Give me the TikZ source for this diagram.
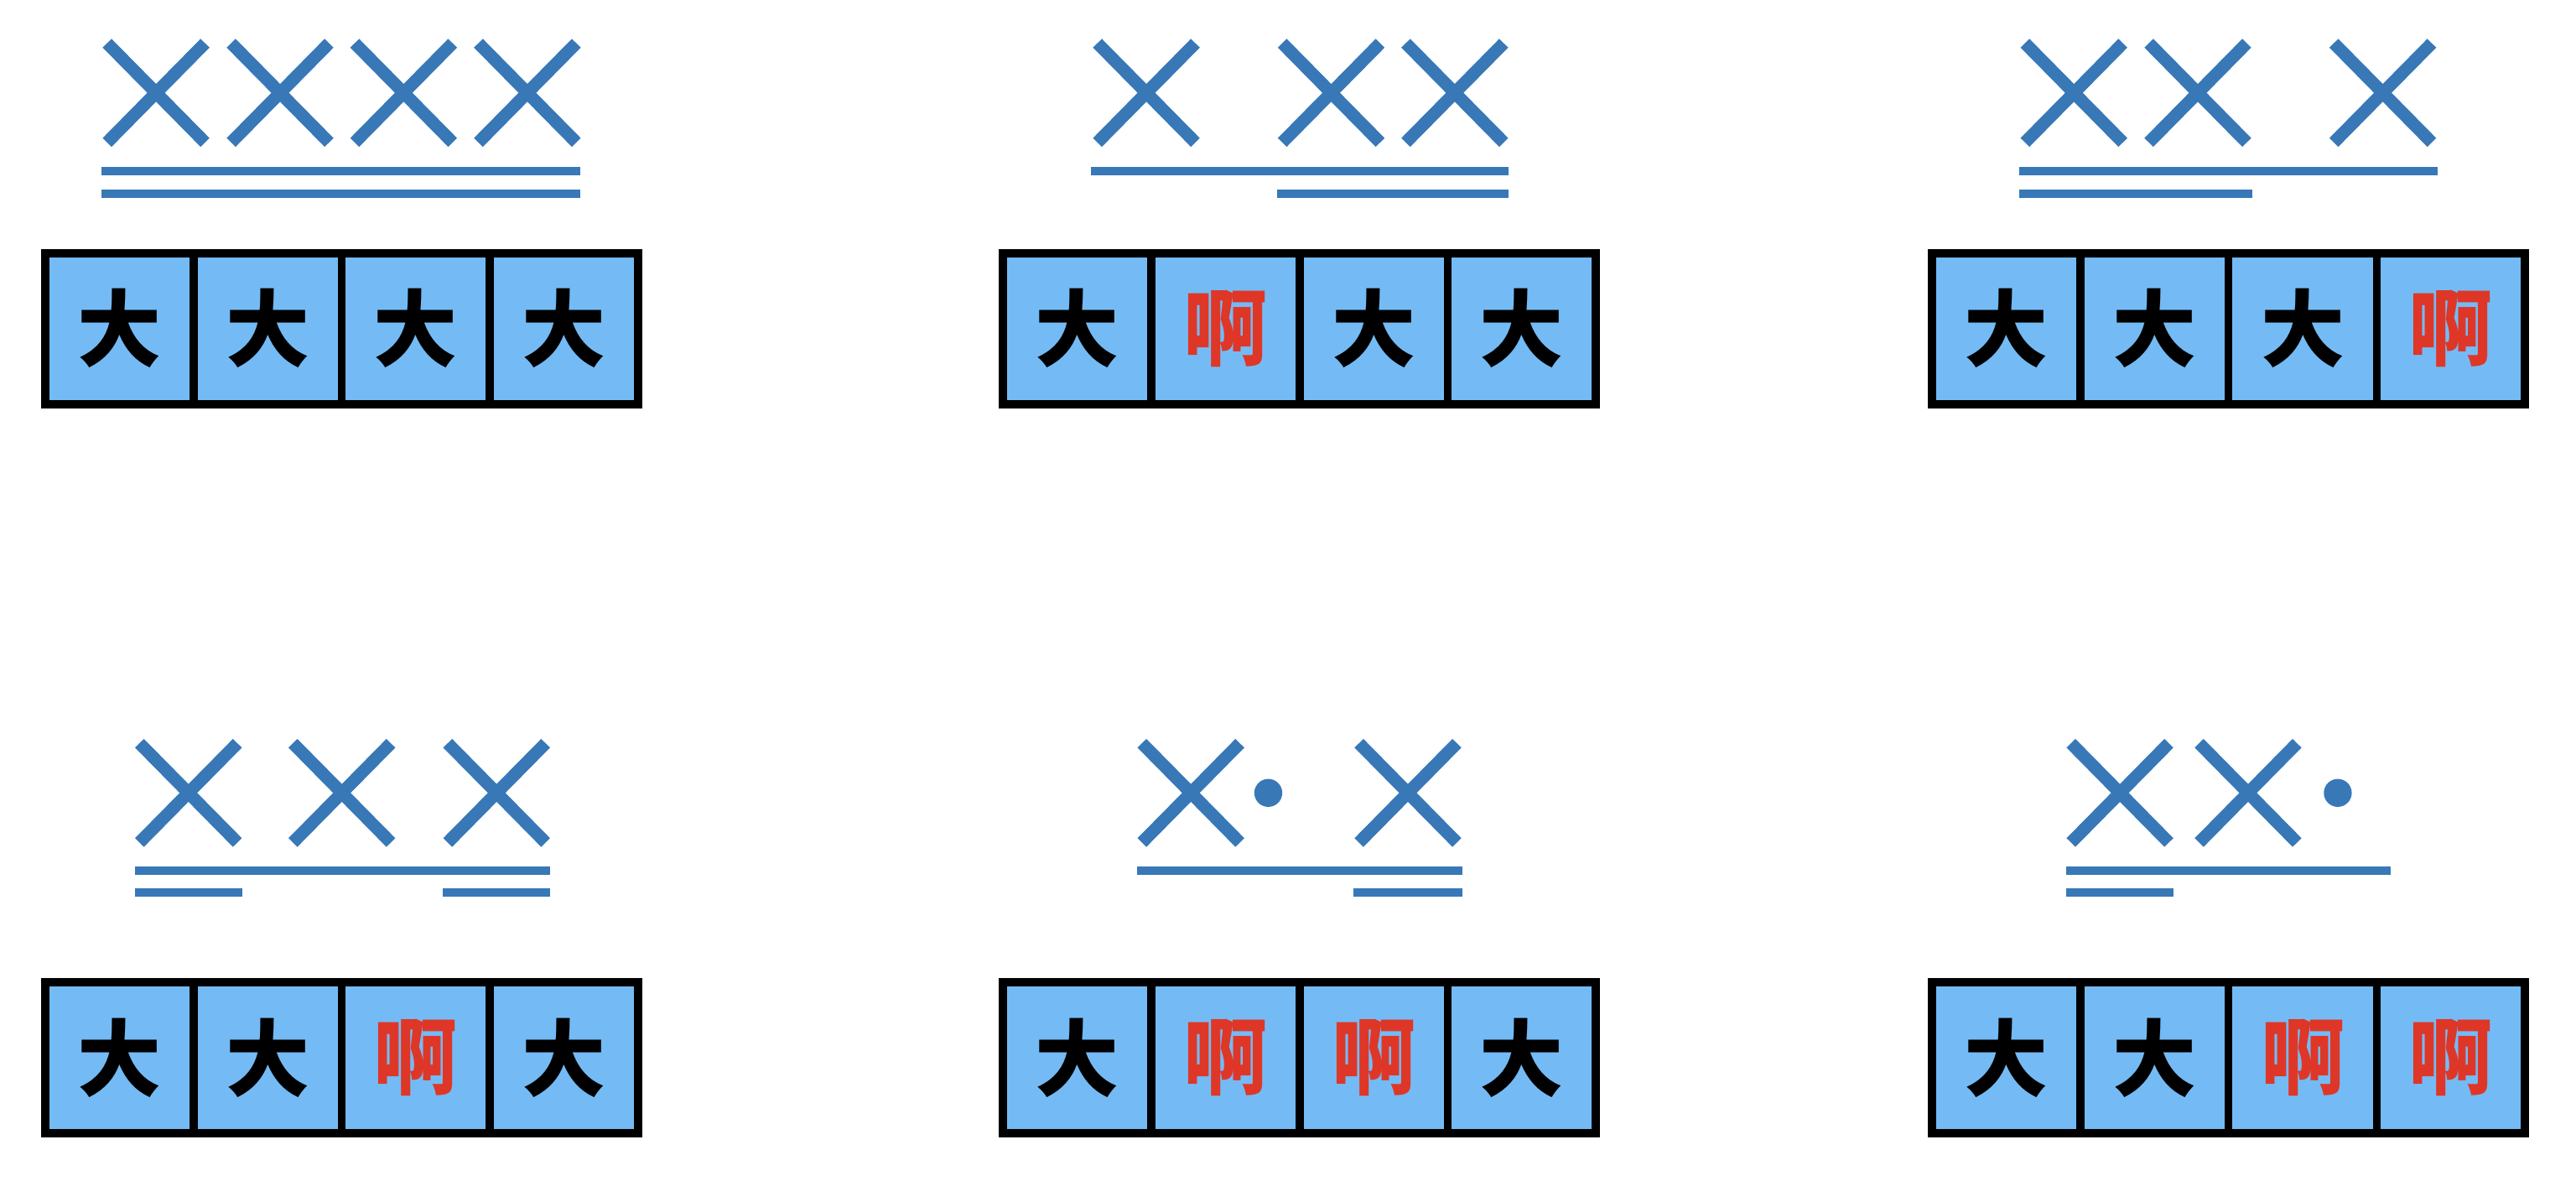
\documentclass[tikz,border=0pt]{standalone}
\usepackage{fontspec}
\usepackage{tikz}
\usetikzlibrary{positioning}
\newfontfamily\cjk{Noto Sans CJK SC}
\definecolor{markColor}{RGB}{56,120,183}
\definecolor{cellColor}{RGB}{116,187,245}
\definecolor{stressColor}{RGB}{222,55,40}
\tikzstyle{rhythm} = [x = 0.01cm, y = -0.01cm]
\tikzstyle{syllableBox} = [draw=black, fill=cellColor, line width=0.05cm, minimum width=0.9025cm, minimum height=0.92cm, inner sep=0pt, font=\cjk\bfseries\fontsize{14.5}{14.5}\selectfont]
\tikzstyle{plainChar} = [text=black]
\tikzstyle{stressChar} = [text=stressColor, font=\cjk\bfseries\fontsize{14.5}{14.5}\selectfont]
\tikzstyle{beatLine} = [color=markColor, line width=0.051cm]
\tikzstyle{crossLine} = [color=markColor, line width=0.076cm]
\newcommand{\cellWidth}{90.25}
\newcommand{\crossMark}[2]{
  \draw [crossLine] (#1 - 29.8, #2 - 30.2) -- (#1 + 29.8, #2 + 30.2);
  \draw [crossLine] (#1 - 29.8, #2 + 30.2) -- (#1 + 29.8, #2 - 30.2);
}
\newcommand{\restDot}[2]{\fill [markColor] (#1, #2) circle (0.085cm);}
\newcommand{\underBeat}[3]{\draw [beatLine] (#1, #3) -- (#2, #3);}
\newcommand{\syllableRow}[4]{
  \foreach \kind/\glyph [count=\i] in {#4} {
    \node [syllableBox, \kind] (#1\i) at (#2 + \i*\cellWidth - \cellWidth/2, #3) {\glyph};
  }
}

\begin{document}
\begin{tikzpicture}[rhythm]
  \useasboundingbox (0,0) rectangle (1568,731);

  % top row
  \crossMark{95}{56.5}
  \crossMark{170.5}{56.5}
  \crossMark{245.7}{56.5}
  \crossMark{321}{56.5}
  \underBeat{62}{353.4}{104}
  \underBeat{62}{353.4}{118}
  \syllableRow{topA}{27.5}{200}{plainChar/大, plainChar/大, plainChar/大, plainChar/大}

  \crossMark{697.8}{56.5}
  \crossMark{810.3}{56.5}
  \crossMark{885.5}{56.5}
  \underBeat{664}{918}{104}
  \underBeat{777.6}{918}{118}
  \syllableRow{topB}{610.5}{200}{plainChar/大, stressChar/啊, plainChar/大, plainChar/大}

  \crossMark{1262.4}{56.5}
  \crossMark{1337.8}{56.5}
  \crossMark{1450.4}{56.5}
  \underBeat{1229}{1484}{104}
  \underBeat{1229}{1371}{118}
  \syllableRow{topC}{1176}{200}{plainChar/大, plainChar/大, plainChar/大, stressChar/啊}

  % bottom row
  \crossMark{114.7}{482.5}
  \crossMark{208.1}{482.5}
  \crossMark{302.3}{482.5}
  \underBeat{82}{335}{530}
  \underBeat{82}{147.4}{543}
  \underBeat{269.6}{335}{543}
  \syllableRow{botA}{27.5}{643.75}{plainChar/大, plainChar/大, stressChar/啊, plainChar/大}

  \crossMark{724.9}{482.5}
  \restDot{772}{482.5}
  \crossMark{857}{482.5}
  \underBeat{692}{890}{530}
  \underBeat{824}{890}{543}
  \syllableRow{botB}{610.5}{643.75}{plainChar/大, stressChar/啊, stressChar/啊, plainChar/大}

  \crossMark{1290.4}{482.5}
  \crossMark{1368.4}{482.5}
  \restDot{1423}{482.5}
  \underBeat{1257.7}{1455}{530}
  \underBeat{1257.7}{1323}{543}
  \syllableRow{botC}{1176}{643.75}{plainChar/大, plainChar/大, stressChar/啊, stressChar/啊}
\end{tikzpicture}
\end{document}
